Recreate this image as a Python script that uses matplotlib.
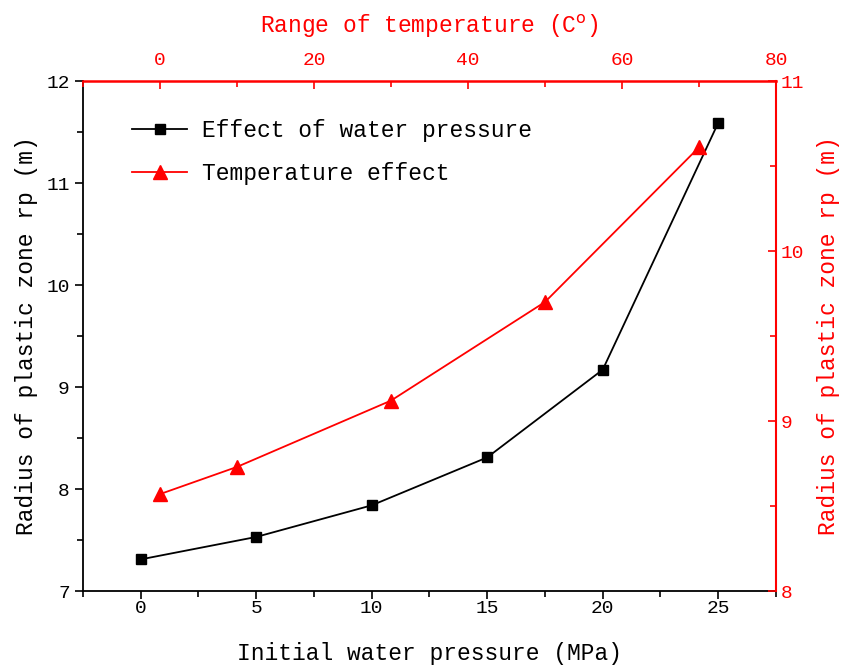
import matplotlib
matplotlib.use("Agg")
import matplotlib.pyplot as plt
from matplotlib.ticker import MultipleLocator
from matplotlib.lines import Line2D

plt.rcParams['font.family'] = ['Liberation Mono', 'DejaVu Sans Mono']

pressure = [0, 5, 10, 15, 20, 25]
radius_pressure = [7.31, 7.53, 7.84, 8.31, 9.17, 11.59]

temperature = [0, 10, 30, 50, 70]
radius_temp = [8.57, 8.73, 9.12, 9.70, 10.61]

fig = plt.figure(figsize=(8.45, 6.66), dpi=100)
pos = [83/845, 75/666, (776-83)/845, (591-81)/666]
ax = fig.add_axes(pos)
ax2 = fig.add_axes(pos)
ax2.patch.set_visible(False)

ax.plot(pressure, radius_pressure, color='black', marker='s', markersize=7, lw=1.3)
ax.set_xlim(-2.5, 27.5)
ax.set_ylim(7, 12)
ax.xaxis.set_major_locator(MultipleLocator(5))
ax.xaxis.set_minor_locator(MultipleLocator(2.5))
ax.yaxis.set_major_locator(MultipleLocator(1))
ax.yaxis.set_minor_locator(MultipleLocator(0.5))
ax.tick_params(which='major', direction='out', length=6, width=1.2, labelsize=14)
ax.tick_params(which='minor', direction='out', length=4, width=1.2)
ax.tick_params(axis='x', which='major', pad=0.5)
ax.spines['top'].set_visible(False)
ax.spines['right'].set_visible(False)
ax.spines['left'].set_linewidth(1.3)
ax.spines['bottom'].set_linewidth(1.3)
ax.set_xlabel('Initial water pressure (MPa)', fontsize=16.5, labelpad=18)
ax.set_ylabel('Radius of plastic zone rp (m)', fontsize=16.5, labelpad=6)

ax2.plot(temperature, radius_temp, color='red', marker='^', markersize=10, lw=1.3)
ax2.set_xlim(-10, 80)
ax2.set_ylim(8, 11)
ax2.xaxis.tick_top()
ax2.xaxis.set_label_position('top')
ax2.yaxis.tick_right()
ax2.yaxis.set_label_position('right')
ax2.xaxis.set_major_locator(MultipleLocator(20))
ax2.xaxis.set_minor_locator(MultipleLocator(10))
ax2.yaxis.set_major_locator(MultipleLocator(1))
ax2.yaxis.set_minor_locator(MultipleLocator(0.5))
ax2.tick_params(which='major', direction='in', length=6, width=1.2, labelsize=14,
                colors='red')
ax2.tick_params(which='minor', direction='in', length=4, width=1.2, colors='red')
ax2.tick_params(axis='x', which='major', pad=9)
ax2.spines['left'].set_visible(False)
ax2.spines['bottom'].set_visible(False)
ax2.spines['top'].set_color('red')
ax2.spines['right'].set_color('red')
ax2.spines['top'].set_linewidth(1.8)
ax2.spines['right'].set_linewidth(1.5)
ax2.set_xlabel('Range of temperature (C$^{\\rm o}$)', fontsize=16.5, color='red', labelpad=13)
ax2.set_ylabel('Radius of plastic zone rp (m)', fontsize=16.5, color='red', labelpad=9)

handles = [
    Line2D([], [], color='black', marker='s', markersize=7, lw=1.3),
    Line2D([], [], color='red', marker='^', markersize=10, lw=1.3),
]
labels = ['Effect of water pressure', 'Temperature effect']
ax2.legend(handles, labels, loc='upper left', bbox_to_anchor=(0.041, 0.965),
           frameon=False, fontsize=16.5, handlelength=2.4, labelspacing=0.87,
           handletextpad=0.65)

fig.savefig('out.png', dpi=100)
